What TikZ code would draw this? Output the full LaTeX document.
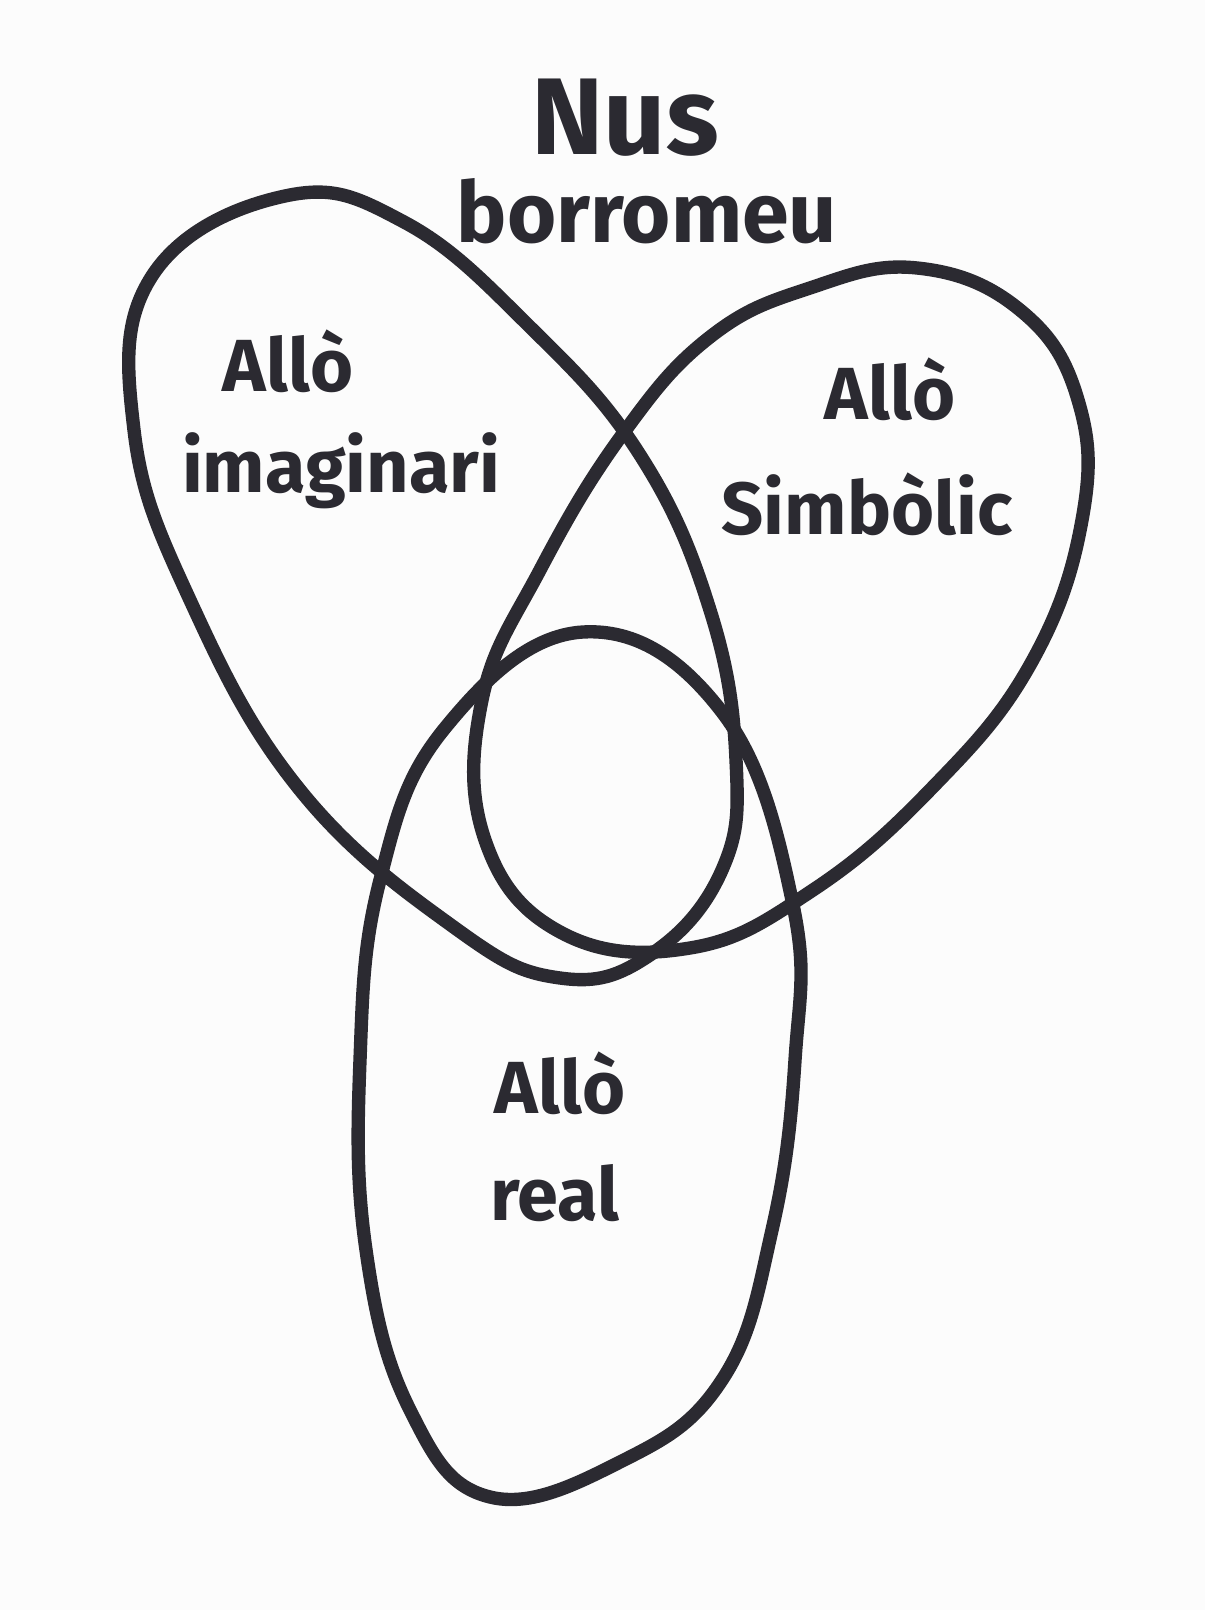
\documentclass[tikz,border=0pt]{standalone}
\usepackage{fontspec}
\setmainfont{Fira Sans}
\definecolor{ink}{HTML}{2B2A31}
\definecolor{paper}{HTML}{FCFCFC}
\begin{document}
\begin{tikzpicture}[x=0.01cm,y=-0.01cm,
  ring/.style={draw=ink, line width=3.8pt, line join=round},
  lbl/.style={text=ink, anchor=base, inner sep=0pt, font=\bfseries\fontsize{21}{25}\selectfont},
  ttl/.style={text=ink, anchor=base, inner sep=0pt}]
\fill[paper] (0,0) rectangle (1205,1610);
\useasboundingbox (0,0) rectangle (1205,1610);

\node[ttl, font=\bfseries\fontsize{31}{36}\selectfont] (nus) at (625,155) {Nus};
\node[ttl, font=\bfseries\fontsize{24}{29}\selectfont] (borromeu) at (647,243) {borromeu};

% imaginari
\draw[ring] plot[smooth cycle, tension=0.7] coordinates {
  (285,196) (404,222) (529,326) (640,455) (710,610) (736,760) (722,870)
  (650,955) (560,978) (455,928) (300,790) (190,600) (134,430) (152,276)};
% simbolic
\draw[ring] plot[smooth cycle, tension=0.7] coordinates {
  (810,288) (917,268) (1020,310) (1078,400) (1082,520) (1030,665)
  (930,790) (810,892) (690,948) (562,933) (485,840) (482,700)
  (540,570) (622,435) (710,337)};
% real
\draw[ring] plot[smooth cycle, tension=0.7] coordinates {
  (583,632) (722,712) (793,905) (795,1060) (772,1230)
  (722,1380) (620,1462) (490,1497) (410,1410) (366,1250) (360,1060)
  (380,880) (445,728)};

\node[lbl] (imA) at (288,392) {Allò};
\node[lbl] (imB) at (341,493) {imaginari};
\node[lbl] (simA) at (890,420) {Allò};
\node[lbl] (simB) at (867,535) {Simbòlic};
\node[lbl] (realA) at (560,1113) {Allò};
\node[lbl] (realB) at (555,1220) {real};
\end{tikzpicture}
\end{document}
